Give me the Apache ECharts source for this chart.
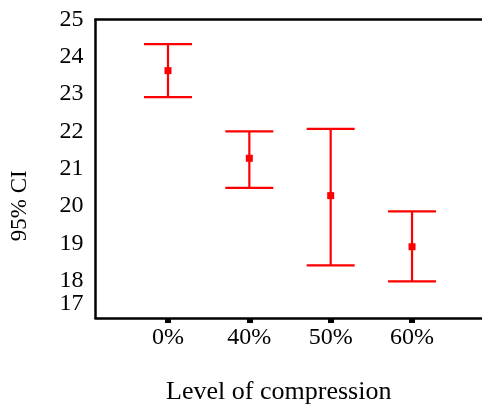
<!DOCTYPE html>
<html>
<head>
<meta charset="utf-8">
<script src="https://cdn.jsdelivr.net/npm/echarts@6/dist/echarts.min.js"></script>
<style>html,body{margin:0;padding:0;background:#fff;}#c{width:482px;height:411px;}</style>
</head>
<body>
<div id="c"></div>
<script>
const categories = ['0%', '40%', '50%', '60%'];
const means = [23.63, 21.28, 20.28, 18.91];
const lower = [22.92, 20.49, 18.41, 17.98];
const upper = [24.34, 22.00, 22.07, 19.86];
const yTickLabels = [17, 18, 19, 20, 21, 22, 23, 24, 25];
const xTitle = 'Level of compression';
const yTitle = '95% CI';

const FONT = 'Liberation Serif';
const RED = '#ff0000';
const xPos = categories.map((c, i) => i + 1);
const X_MIN = 0.109, X_MAX = 4.86;
const Y_MIN = yTickLabels[0], Y_MAX = yTickLabels[yTickLabels.length - 1];
// the lowest tick label sits a little above its level in the reference
const LOW_LABEL_SHIFT = 0.375;

const labelStyle = {fontFamily: FONT, fontSize: 24, color: '#000', margin: 12};

const chart = echarts.init(document.getElementById('c'), null, {renderer: 'canvas'});
chart.setOption({
  animation: false,
  backgroundColor: '#fff',
  grid: {left: 95.5, top: 19.5, bottom: 93, right: 0, show: false},
  xAxis: [{
    type: 'value', min: X_MIN, max: X_MAX,
    axisLine: {show: true, lineStyle: {color: '#000', width: 2.5}},
    axisTick: {show: true, customValues: xPos, length: 5, inside: false, lineStyle: {color: '#000', width: 6}},
    axisLabel: {customValues: xPos, formatter: v => categories[Math.round(v) - 1] || '', fontFamily: FONT, fontSize: 24, color: '#000', margin: 8},
    splitLine: {show: false},
    name: xTitle, nameLocation: 'middle', nameGap: 61,
    nameTextStyle: {fontFamily: FONT, fontSize: 26, color: '#000', padding: [0, 20, 0, 0]}
  }, {
    type: 'value', position: 'top', min: X_MIN, max: X_MAX,
    axisLine: {show: true, lineStyle: {color: '#000', width: 2.5}},
    axisTick: {show: false}, axisLabel: {show: false}, splitLine: {show: false}
  }],
  yAxis: [{
    type: 'value', min: Y_MIN, max: Y_MAX, interval: 1,
    axisLine: {show: true, lineStyle: {color: '#000', width: 2.5}},
    axisTick: {show: false},
    axisLabel: Object.assign({customValues: yTickLabels.slice(1), showMinLabel: true, showMaxLabel: true, hideOverlap: false}, labelStyle),
    splitLine: {show: false},
    name: yTitle, nameLocation: 'middle', nameGap: 64, nameRotate: 90,
    nameTextStyle: {fontFamily: FONT, fontSize: 23, color: '#000', padding: [0, 74, 0, 0]}
  }, {
    type: 'value', position: 'left', min: Y_MIN, max: Y_MAX,
    axisLine: {show: false}, axisTick: {show: false}, splitLine: {show: false},
    axisLabel: Object.assign({customValues: [Y_MIN + LOW_LABEL_SHIFT], showMinLabel: true, formatter: () => String(yTickLabels[0])}, labelStyle)
  }],
  series: [
    {
      type: 'custom',
      data: xPos.map((x, i) => [x, lower[i], upper[i]]),
      renderItem: function (params, api) {
        const x = api.value(0);
        const lo = api.coord([x, api.value(1)]);
        const hi = api.coord([x, api.value(2)]);
        const hw = 24;
        const style = {stroke: RED, lineWidth: 2.2};
        return {
          type: 'group',
          children: [
            {type: 'line', shape: {x1: lo[0], y1: lo[1], x2: hi[0], y2: hi[1]}, style: style},
            {type: 'line', shape: {x1: hi[0] - hw, y1: hi[1], x2: hi[0] + hw, y2: hi[1]}, style: style},
            {type: 'line', shape: {x1: lo[0] - hw, y1: lo[1], x2: lo[0] + hw, y2: lo[1]}, style: style}
          ]
        };
      },
      silent: true
    },
    {
      type: 'scatter',
      symbol: 'rect', symbolSize: 7,
      itemStyle: {color: RED, opacity: 1},
      data: xPos.map((x, i) => [x, means[i]]),
      silent: true
    }
  ]
});
</script>
</body>
</html>
